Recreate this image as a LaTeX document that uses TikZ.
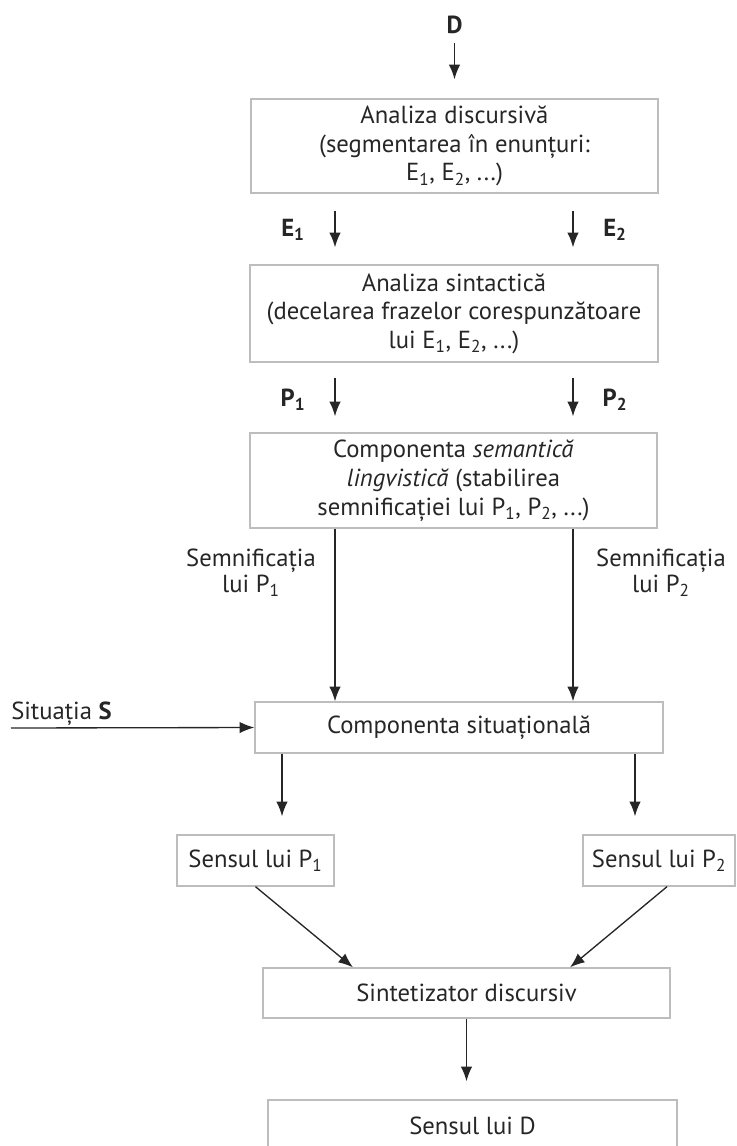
\documentclass[tikz,border=0pt]{standalone}
\usepackage{fontspec}
\setmainfont{PT Sans}
\usetikzlibrary{arrows.meta}
\definecolor{ink}{HTML}{262626}
\definecolor{frame}{HTML}{BDBDBD}
\newcommand\basefont{\fontsize{18.5}{21.5}\selectfont}
\tikzset{
  box/.style={draw=frame, line width=1pt, align=center, inner sep=0pt, text=ink, font=\basefont},
  arr/.style={draw=ink, line width=1pt, -{Latex[length=11pt,width=8.5pt]}},
  lab/.style={text=ink, inner sep=0pt, font=\basefont\bfseries},
  side/.style={text=ink, inner sep=0pt, align=center, font=\fontsize{18.5}{19.5}\selectfont},
}
\begin{document}
\begin{tikzpicture}[x=0.75pt,y=-0.75pt]
\useasboundingbox (0,0) rectangle (737,1146);

% processing stages
\node[box, minimum width=305.25pt, minimum height=70.5pt] (b1) at (454.5,146)
  {Analiza discursivă\\(segmentarea în enunțuri:\\E\textsubscript{1}, E\textsubscript{2}, ...)};
\node[box, minimum width=306pt, minimum height=72.75pt] (b2) at (454,313.5)
  {Analiza sintactică\\(decelarea frazelor corespunzătoare\\lui E\textsubscript{1}, E\textsubscript{2}, ...)};
\node[box, minimum width=305.25pt, minimum height=71.25pt] (b3) at (453.5,480.5)
  {Componenta \textit{semantică}\\\textit{lingvistică} (stabilirea\\semnificației lui P\textsubscript{1}, P\textsubscript{2}, ...)};
\node[box, minimum width=306pt, minimum height=38.25pt] (b4) at (459,727.5)
  {Componenta situațională};
\node[box, minimum width=117.75pt, minimum height=38.25pt] (sp1) at (255.5,860.5)
  {Sensul lui P\textsubscript{1}};
\node[box, minimum width=114pt, minimum height=38.25pt] (sp2) at (659,860.5)
  {Sensul lui P\textsubscript{2}};
\node[box, minimum width=305.25pt, minimum height=37.5pt] (sint) at (466.5,993)
  {Sintetizator discursiv};
\node[box, minimum width=306.75pt, minimum height=38.25pt] (sd) at (472.5,1125.5)
  {Sensul lui D};

% labels
\node[lab] (D) at (454.5,25) {D};
\node[lab] (E1) at (293,230) {E\textsubscript{1}};
\node[lab] (E2) at (615,230) {E\textsubscript{2}};
\node[lab] (P1) at (293,400) {P\textsubscript{1}};
\node[lab] (P2) at (615,400) {P\textsubscript{2}};
\node[side] (s1) at (251,573) {Semnificația\\lui P\textsubscript{1}};
\node[side] (s2) at (661,573) {Semnificația\\lui P\textsubscript{2}};
\node[anchor=west, inner sep=0pt, text=ink, font=\basefont] (sit) at (11,714) {Situația \textbf{S}};

% column positions of the connectors
\coordinate (cL) at (335,0);
\coordinate (cR) at (573,0);
\coordinate (kL) at (282,0);
\coordinate (kR) at (635,0);
\coordinate (dL) at (353,0);
\coordinate (dR) at (570,0);
\coordinate (uR) at (667,0);
\coordinate (sitin) at (11,728);

% connectors
\draw[arr, shorten <=7pt, shorten >=14.25pt] (D.south) -- (b1.north);
\draw[arr, shorten <=12.75pt, shorten >=12.75pt] (b1.south -| cL) -- (b2.north -| cL);
\draw[arr, shorten <=12.75pt, shorten >=12.75pt] (b1.south -| cR) -- (b2.north -| cR);
\draw[arr, shorten <=11.25pt, shorten >=12pt] (b2.south -| cL) -- (b3.north -| cL);
\draw[arr, shorten <=11.25pt, shorten >=12pt] (b2.south -| cR) -- (b3.north -| cR);
\draw[arr] (b3.south -| cL) -- (b4.north -| cL);
\draw[arr] (b3.south -| cR) -- (b4.north -| cR);
\draw[arr] (sitin) -- (b4.west);
\draw[arr, shorten >=13.5pt] (b4.south -| kL) -- (sp1.north -| kL);
\draw[arr, shorten >=13.5pt] (b4.south -| kR) -- (sp2.north -| kR);
\draw[arr] (sp1.south) -- (sint.north -| dL);
\draw[arr] (sp2.south -| uR) -- (sint.north -| dR);
\draw[arr, shorten >=13.5pt] (sint.south) -- (sd.north -| sint.south);
\end{tikzpicture}
\end{document}
